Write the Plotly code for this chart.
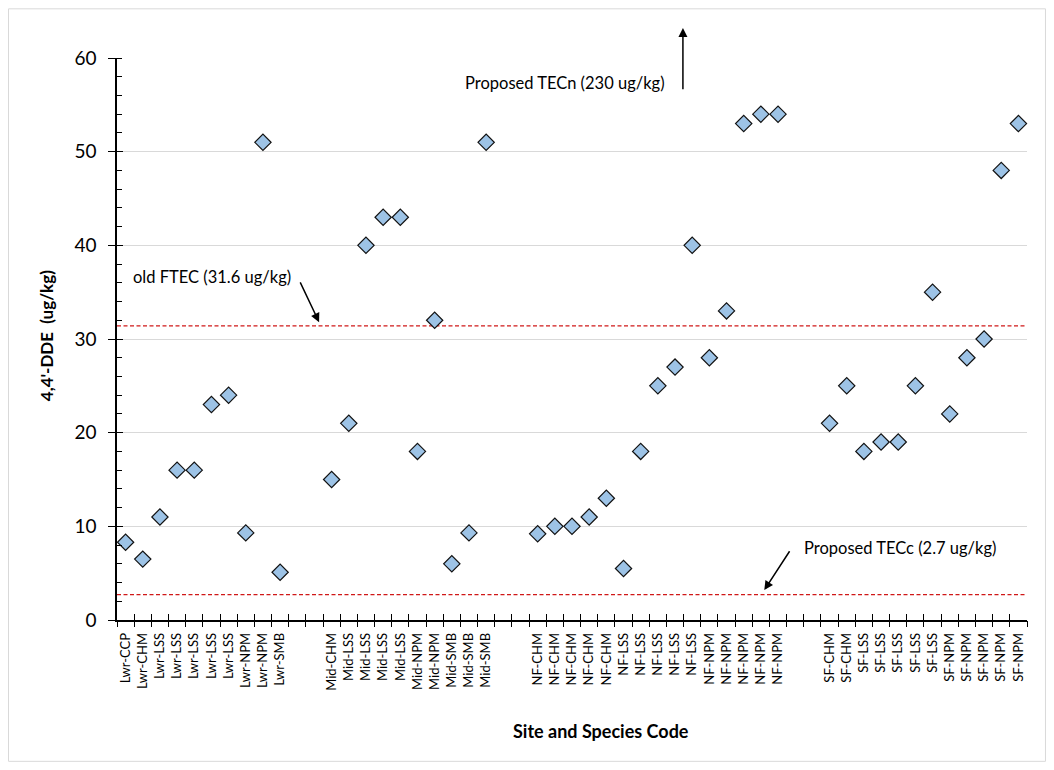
import plotly.graph_objects as go

# ---------------- data ----------------
lwr_labels = ["Lwr-CCP", "Lwr-CHM", "Lwr-LSS", "Lwr-LSS", "Lwr-LSS", "Lwr-LSS", "Lwr-LSS",
              "Lwr-NPM", "Lwr-NPM", "Lwr-SMB"]
lwr_values = [8.3, 6.5, 11, 16, 16, 23, 24, 9.3, 51, 5.1]

mid_labels = ["Mid-CHM", "Mid-LSS", "Mid-LSS", "Mid-LSS", "Mid-LSS", "Mid-NPM", "Mid-NPM",
              "Mid-SMB", "Mid-SMB", "Mid-SMB"]
mid_values = [15, 21, 40, 43, 43, 18, 32, 6, 9.3, 51]

nf_labels = ["NF-CHM"] * 5 + ["NF-LSS"] * 5 + ["NF-NPM"] * 5
nf_values = [9.2, 10, 10, 11, 13, 5.5, 18, 25, 27, 40, 28, 33, 53, 54, 54]

sf_labels = ["SF-CHM"] * 2 + ["SF-LSS"] * 5 + ["SF-NPM"] * 5
sf_values = [21, 25, 18, 19, 19, 25, 35, 22, 28, 30, 48, 53]

groups = [(lwr_labels, lwr_values), (mid_labels, mid_values),
          (nf_labels, nf_values), (sf_labels, sf_values)]
GAP = 2  # empty category slots between site groups

FTEC_LINE = 31.4
TECC_LINE = 2.7
y_ticks = [0, 10, 20, 30, 40, 50, 60]

# ---------------- build positions ----------------
xs, ys, tick_pos, tick_txt = [], [], [], []
pos = 0
for gi, (labs, vals) in enumerate(groups):
    for lab, v in zip(labs, vals):
        xs.append(pos)
        ys.append(v)
        tick_pos.append(pos)
        tick_txt.append(lab)
        pos += 1
    if gi < len(groups) - 1:
        pos += GAP
n_slots = pos
xr = [-0.5, n_slots - 0.5]
boundaries = [i - 0.5 for i in range(n_slots + 1)]

FONT = "Lato, 'Open Sans', sans-serif"
BLACK = "#000000"

fig = go.Figure()

# threshold lines
for val in (FTEC_LINE, TECC_LINE):
    fig.add_trace(go.Scatter(x=xr, y=[val, val], mode="lines",
                             line=dict(color="#D01818", width=1.2, dash="4px,2.5px"),
                             hoverinfo="skip", showlegend=False))

fig.add_trace(go.Scatter(
    x=xs, y=ys, mode="markers",
    marker=dict(symbol="diamond", size=12.5, color="#9DC3E6",
                line=dict(color="#111111", width=1.2)),
    showlegend=False, cliponaxis=False))

# dummy traces for overlay tick axes
fig.add_trace(go.Scatter(x=[None], y=[None], xaxis="x2", yaxis="y2", showlegend=False, hoverinfo="skip"))
fig.add_trace(go.Scatter(x=[None], y=[None], xaxis="x3", yaxis="y2", showlegend=False, hoverinfo="skip"))

fig.update_layout(
    width=1038, height=754,
    margin=dict(l=109, r=19, t=50, b=142),
    paper_bgcolor="white", plot_bgcolor="white",
    font=dict(family=FONT, color=BLACK),
    xaxis=dict(range=xr, tickmode="array", tickvals=tick_pos, ticktext=tick_txt,
               tickangle=-90, ticks="", showgrid=False, zeroline=False,
               showline=True, linecolor=BLACK, linewidth=1.5,
               tickfont=dict(size=13, family=FONT, color=BLACK), ticklabelstandoff=6),
    xaxis2=dict(range=xr, overlaying="x", anchor="y", side="bottom", tickmode="array",
                tickvals=boundaries, ticks="outside", ticklen=6, tickwidth=1.3,
                tickcolor=BLACK, showticklabels=False, showgrid=False,
                zeroline=False, showline=False),
    xaxis3=dict(range=xr, overlaying="x", anchor="y", side="bottom", tickmode="array",
                tickvals=boundaries, ticks="inside", ticklen=6, tickwidth=1.3,
                tickcolor=BLACK, showticklabels=False, showgrid=False,
                zeroline=False, showline=False),
    yaxis=dict(range=[0, 60], tickmode="array", tickvals=y_ticks, ticks="outside",
               ticklen=7, tickwidth=1.3, tickcolor=BLACK,
               showgrid=True, gridcolor="#D9D9D9", gridwidth=1, zeroline=False,
               showline=True, linecolor=BLACK, linewidth=1.5,
               tickfont=dict(size=19, family=FONT, color=BLACK), ticklabelstandoff=8,
               minor=dict(dtick=2, ticks="inside", ticklen=5, tickwidth=1.3,
                          tickcolor=BLACK, showgrid=False)),
    yaxis2=dict(range=[0, 60], overlaying="y", anchor="x", side="left", tickmode="array",
                tickvals=y_ticks, ticks="inside", ticklen=6, tickwidth=1.3,
                tickcolor=BLACK, showticklabels=False, showgrid=False,
                zeroline=False, showline=False),
)

# chart border (around whole figure)
fig.add_shape(type="rect", xref="paper", yref="paper",
              x0=-0.1192, x1=1.0203, y0=-0.2515, y1=1.0875,
              line=dict(color="#D9D9D9", width=1), fillcolor="rgba(0,0,0,0)", layer="below")

ann_font = dict(size=16.5, family=FONT, color=BLACK)
annotations = [
    # axis titles
    dict(text="<b>Site and Species Code</b>", xref="paper", yref="paper",
         x=0.532, y=-0.1975, showarrow=False, font=dict(size=18, family=FONT, color=BLACK),
         xanchor="center", yanchor="middle"),
    dict(text="<b>4,4'-DDE  (ug/kg)</b>", xref="paper", yref="paper",
         x=-0.078, y=0.505, showarrow=False, textangle=-90,
         font=dict(size=17, family=FONT, color=BLACK), xanchor="center", yanchor="middle"),
    # labels
    dict(text="Proposed TECn (230 ug/kg)", xref="x", yref="y", x=31.55, y=57.3,
         showarrow=False, xanchor="right", yanchor="middle", font=ann_font),
    dict(text="old FTEC (31.6 ug/kg)", xref="x", yref="y", x=0.3, y=36.6,
         showarrow=False, xanchor="left", yanchor="middle", font=ann_font),
    dict(text="Proposed TECc (2.7 ug/kg)", xref="x", yref="y", x=39.4, y=7.7,
         showarrow=False, xanchor="left", yanchor="middle", font=ann_font),
    # arrows
    dict(text="", xref="x", yref="y", axref="x", ayref="y",
         x=32.46, y=63.2, ax=32.46, ay=56.5, showarrow=True,
         arrowhead=2, arrowsize=1.2, arrowwidth=1.5, arrowcolor=BLACK),
    dict(text="", xref="x", yref="y", axref="x", ayref="y",
         x=11.27, y=31.8, ax=10.13, ay=36.2, showarrow=True,
         arrowhead=2, arrowsize=1.2, arrowwidth=1.5, arrowcolor=BLACK),
    dict(text="", xref="x", yref="y", axref="x", ayref="y",
         x=37.2, y=3.2, ax=38.73, ay=7.5, showarrow=True,
         arrowhead=2, arrowsize=1.2, arrowwidth=1.5, arrowcolor=BLACK),
]
fig.update_layout(annotations=annotations)

fig.write_html("out.html")
